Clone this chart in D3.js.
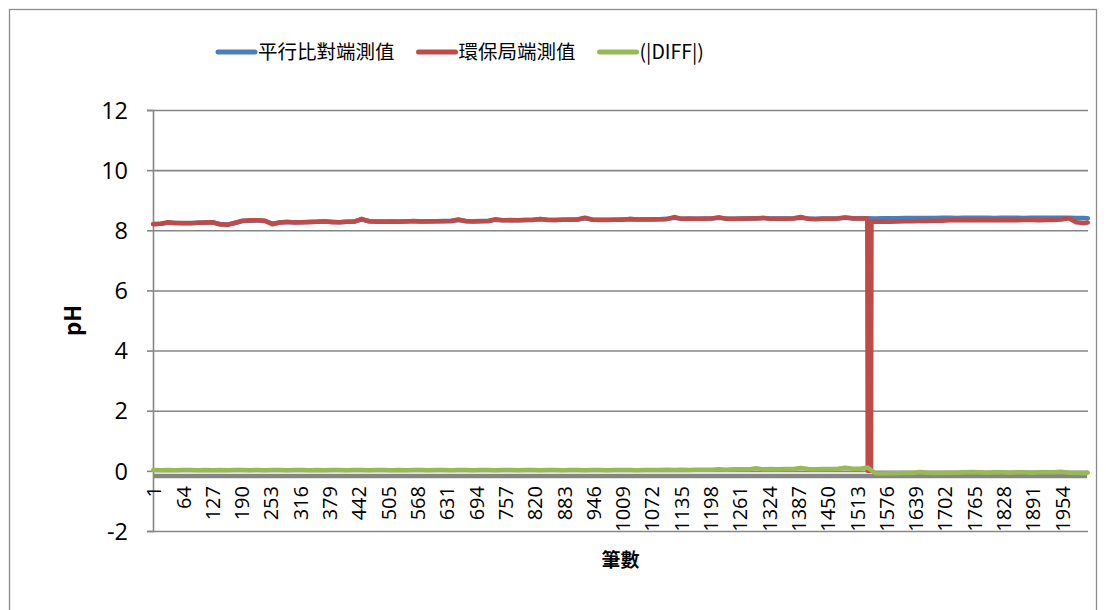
<!DOCTYPE html>
<html>
<head>
<meta charset="utf-8">
<script src="https://cdn.jsdelivr.net/npm/d3@7"></script>
<style>
  html, body { margin: 0; padding: 0; background: #fff; }
  svg { display: block; }
  text { font-family: "Open Sans", "Noto Sans CJK TC", sans-serif; fill: #000; }
  .cjk { font-family: "Noto Sans CJK TC", "Open Sans", sans-serif; }
</style>
</head>
<body>
<svg id="chart" width="1106" height="610"></svg>
<script>
// Record numbers (筆數) 1..2010; readings are taken every 16th record plus the last one.
const recordCount = 2010;
const sampleRecords = d3.range(1, recordCount + 1, 16).concat([recordCount]);

// 平行比對端測值 (parallel comparison side pH)
const parallelPH = [
  8.21, 8.22, 8.25, 8.24, 8.23, 8.24, 8.25, 8.26, 8.26, 8.21,
  8.19, 8.24, 8.31, 8.32, 8.33, 8.31, 8.22, 8.26, 8.27, 8.27,
  8.27, 8.28, 8.28, 8.29, 8.28, 8.27, 8.28, 8.29, 8.36, 8.30,
  8.29, 8.29, 8.29, 8.29, 8.30, 8.30, 8.29, 8.30, 8.30, 8.31,
  8.31, 8.34, 8.31, 8.30, 8.31, 8.31, 8.35, 8.33, 8.34, 8.33,
  8.34, 8.35, 8.37, 8.35, 8.34, 8.35, 8.36, 8.36, 8.40, 8.36,
  8.35, 8.35, 8.35, 8.36, 8.37, 8.36, 8.37, 8.37, 8.37, 8.38,
  8.42, 8.38, 8.39, 8.38, 8.39, 8.39, 8.42, 8.39, 8.38, 8.39,
  8.39, 8.40, 8.41, 8.39, 8.39, 8.39, 8.40, 8.42, 8.39, 8.38,
  8.39, 8.39, 8.40, 8.42, 8.40, 8.40, 8.40, 8.39, 8.40, 8.40,
  8.40, 8.41, 8.41, 8.41, 8.41, 8.41, 8.42, 8.42, 8.41, 8.42,
  8.42, 8.42, 8.42, 8.41, 8.42, 8.42, 8.42, 8.41, 8.42, 8.42,
  8.42, 8.42, 8.42, 8.42, 8.41, 8.41, 8.40
];

// 環保局端測值 (EPB side pH)
const epbPH = [
  8.20, 8.22, 8.27, 8.24, 8.24, 8.23, 8.25, 8.26, 8.27, 8.19,
  8.18, 8.25, 8.32, 8.33, 8.33, 8.32, 8.20, 8.26, 8.28, 8.26,
  8.27, 8.27, 8.28, 8.30, 8.27, 8.27, 8.28, 8.29, 8.38, 8.30,
  8.28, 8.28, 8.29, 8.28, 8.29, 8.31, 8.29, 8.29, 8.30, 8.30,
  8.31, 8.36, 8.30, 8.29, 8.30, 8.31, 8.37, 8.33, 8.33, 8.33,
  8.34, 8.34, 8.38, 8.34, 8.34, 8.35, 8.35, 8.36, 8.42, 8.35,
  8.34, 8.34, 8.35, 8.35, 8.38, 8.36, 8.36, 8.36, 8.37, 8.37,
  8.44, 8.38, 8.38, 8.38, 8.38, 8.39, 8.43, 8.38, 8.38, 8.38,
  8.39, 8.39, 8.41, 8.38, 8.38, 8.38, 8.39, 8.44, 8.38, 8.37,
  8.38, 8.38, 8.39, 8.43, 8.39, 8.39, 0.00, 8.28, 8.29, 8.28,
  8.29, 8.30, 8.30, 8.31, 8.31, 8.32, 8.32, 8.33, 8.33, 8.33,
  8.34, 8.33, 8.33, 8.34, 8.33, 8.34, 8.33, 8.34, 8.34, 8.33,
  8.34, 8.34, 8.36, 8.40, 8.27, 8.24, 8.26
];
// Extra EPB readings around the outage (drop to 0)
const epbOutageRecords = [1536, 1544, 1545];
const epbOutagePH = [8.39, 0.00, 8.29];

// (|DIFF|)
const diffPH = [
  0.03, 0.02, 0.03, 0.02, 0.03, 0.03, 0.02, 0.03, 0.02, 0.03,
  0.02, 0.03, 0.03, 0.02, 0.03, 0.02, 0.03, 0.03, 0.02, 0.03,
  0.03, 0.02, 0.03, 0.02, 0.03, 0.03, 0.02, 0.03, 0.03, 0.02,
  0.03, 0.03, 0.02, 0.03, 0.02, 0.03, 0.03, 0.02, 0.03, 0.03,
  0.02, 0.03, 0.03, 0.02, 0.03, 0.03, 0.02, 0.03, 0.03, 0.02,
  0.03, 0.03, 0.02, 0.03, 0.03, 0.02, 0.03, 0.03, 0.02, 0.03,
  0.03, 0.02, 0.03, 0.03, 0.03, 0.02, 0.03, 0.03, 0.03, 0.04,
  0.03, 0.04, 0.03, 0.04, 0.04, 0.04, 0.05, 0.04, 0.05, 0.05,
  0.05, 0.09, 0.05, 0.06, 0.05, 0.06, 0.06, 0.10, 0.06, 0.05,
  0.06, 0.06, 0.07, 0.10, 0.07, 0.07, 0.11, -0.08, -0.09, -0.08,
  -0.08, -0.07, -0.07, -0.04, -0.06, -0.07, -0.07, -0.06, -0.06, -0.05,
  -0.04, -0.05, -0.06, -0.05, -0.05, -0.06, -0.05, -0.05, -0.06, -0.05,
  -0.05, -0.05, -0.03, -0.06, -0.07, -0.08, -0.06
];

const yTicks = [-2, 0, 2, 4, 6, 8, 10, 12];
const labelInterval = 63;
const categoryAxisAt = -0.17;

const seriesNames = ["平行比對端測值", "環保局端測值", "(|DIFF|)"];
const seriesColors = ["#4a7ebb", "#be4b48", "#98b954"];

// ---- layout ----
const svg = d3.select("#chart");
const plot = { left: 153, right: 1088, top: 110, bottom: 531 };

const records = d3.range(1, recordCount + 1);
const xBand = d3.scaleBand().domain(records).range([plot.left, plot.right]);
const x = r => xBand(r) + xBand.bandwidth() / 2;
const y = d3.scaleLinear().domain([-2, 12]).range([plot.bottom, plot.top]);

// outer chart border
svg.append("rect")
  .attr("x", 9.5).attr("y", 9.5).attr("width", 1087).attr("height", 640)
  .attr("fill", "none").attr("stroke", "#8c8c8c").attr("stroke-width", 1.3);

// horizontal gridlines + left ticks
const yAxis = d3.axisLeft(y).tickValues(yTicks).tickSize(6).tickPadding(19)
  .tickFormat(d => String(d));
const gy = svg.append("g").attr("transform", `translate(${plot.left},0)`).call(yAxis);
gy.select(".domain").attr("stroke", "#868686").attr("stroke-width", 1.6);
gy.selectAll(".tick line").attr("stroke", "#868686").attr("stroke-width", 1.6);
gy.selectAll(".tick text").attr("font-size", 23.5).attr("font-family", "Open Sans")
  .attr("dy", "0.35em");
gy.selectAll(".tick").append("line")
  .attr("x1", 0).attr("x2", plot.right - plot.left)
  .attr("stroke", "#868686").attr("stroke-width", 1.6);

// category axis line
svg.append("line")
  .attr("x1", plot.left).attr("x2", plot.right - 1)
  .attr("y1", y(categoryAxisAt)).attr("y2", y(categoryAxisAt))
  .attr("stroke", "#868686").attr("stroke-width", 4.5);

// category tick labels (every 63rd record), rotated
const labelRecords = records.filter(r => (r - 1) % labelInterval === 0);
svg.append("g").selectAll("text").data(labelRecords).join("text")
  .attr("transform", r => `translate(${x(r) + 1},486) rotate(-90)`)
  .attr("text-anchor", "end")
  .attr("dy", "0.35em")
  .attr("font-size", 20)
  .text(r => r);

// series
const pts = (recs, vals) => recs.map((r, i) => ({ r, v: vals[i] }));
const epbPoints = pts(sampleRecords, epbPH)
  .concat(pts(epbOutageRecords, epbOutagePH))
  .sort((a, b) => a.r - b.r);
const seriesData = [
  pts(sampleRecords, parallelPH),
  epbPoints,
  pts(sampleRecords, diffPH)
];
const line = d3.line().x(d => x(d.r)).y(d => y(d.v)).curve(d3.curveLinear);
svg.append("g").selectAll("path").data(seriesData).join("path")
  .attr("d", line)
  .attr("fill", "none")
  .attr("stroke", (d, i) => seriesColors[i])
  .attr("stroke-width", 4.5)
  .attr("stroke-linejoin", "round")
  .attr("stroke-linecap", "round");

// legend
const legend = svg.append("g").attr("class", "cjk");
let lx = 218;
const ly = 52;
seriesNames.forEach((name, i) => {
  legend.append("line")
    .attr("x1", lx).attr("x2", lx + 37).attr("y1", ly).attr("y2", ly)
    .attr("stroke", seriesColors[i]).attr("stroke-width", 5)
    .attr("stroke-linecap", "round");
  const t = legend.append("text")
    .attr("x", lx + 40).attr("y", ly).attr("dy", "0.36em")
    .attr("font-size", 19.5)
    .attr("class", "cjk")
    .text(name);
  lx += 40 + t.node().getComputedTextLength() + 24;
});

// axis titles
svg.append("text")
  .attr("class", "cjk")
  .attr("transform", `translate(73,${(plot.top + plot.bottom) / 2}) rotate(-90)`)
  .attr("text-anchor", "middle").attr("dy", "0.35em")
  .attr("font-size", 22).attr("font-weight", "bold")
  .text("pH");
svg.append("text")
  .attr("class", "cjk")
  .attr("x", (plot.left + plot.right) / 2).attr("y", 560)
  .attr("text-anchor", "middle").attr("dy", "0.35em")
  .attr("font-size", 19).attr("font-weight", "bold")
  .text("筆數");
</script>
</body>
</html>
